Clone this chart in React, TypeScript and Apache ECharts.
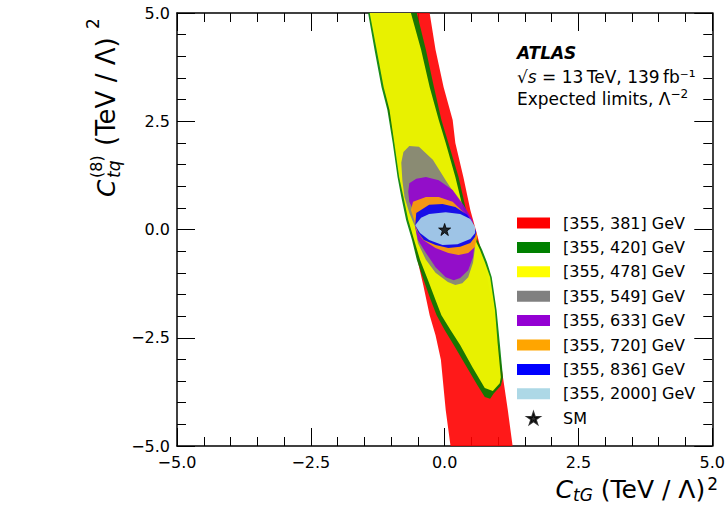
import { useEffect, useRef } from "react";
import * as echarts from "echarts";

// ---------- data ----------
const legendNames = [
  "[355, 381] GeV",
  "[355, 420] GeV",
  "[355, 478] GeV",
  "[355, 549] GeV",
  "[355, 633] GeV",
  "[355, 720] GeV",
  "[355, 836] GeV",
  "[355, 2000] GeV",
];
const regionColors = ["#ff0000", "#008000", "#ffff00", "#808080", "#9400d3", "#ffa500", "#0000ff", "#add8e6"];

const region381: number[][] = [
  [-1.36, 5], [-0.28, 5], [-0.17, 4.15], [-0.02, 3.29], [0.15, 2.53], [0.2, 2.0], [0.35, 1.21], [0.48, 0.45],
  [0.61, -0.13], [0.75, -0.82], [0.88, -1.63], [0.99, -2.55], [1.09, -3.41], [1.18, -4.17], [1.27, -5],
  [0.11, -5], [0.02, -4.17], [-0.07, -3.01], [-0.17, -2.44], [-0.28, -1.98], [-0.4, -1.28], [-0.53, -0.59],
  [-0.68, 0.22], [-0.77, 0.75], [-0.94, 2.0], [-1.14, 3.29],
];
const region420: number[][] = [
  [-1.43, 5], [-0.52, 5], [-0.35, 4.15], [-0.2, 3.29], [-0.06, 2.53], [0.07, 2.0], [0.26, 1.21], [0.4, 0.45],
  [0.57, -0.13], [0.7, -0.47], [0.79, -0.75], [0.88, -1.1], [0.97, -1.86], [1.03, -2.62], [1.09, -3.41],
  [1.05, -3.61], [0.92, -3.78], [0.85, -3.91], [0.75, -3.87], [0.61, -3.59], [0.39, -3.13], [0.17, -2.67],
  [0.0, -2.32], [-0.15, -1.98], [-0.26, -1.63], [-0.39, -1.17], [-0.52, -0.7], [-0.61, -0.24], [-0.72, 0.22],
  [-0.81, 0.75], [-0.88, 1.21], [-0.97, 2.0], [-1.07, 2.76], [-1.18, 3.29], [-1.31, 4.15],
];
const region478: number[][] = [
  [-1.4, 5], [-0.63, 5], [-0.44, 4.15], [-0.28, 3.29], [-0.11, 2.53], [0.02, 2.0], [0.2, 1.21], [0.35, 0.45],
  [0.53, -0.13], [0.66, -0.47], [0.75, -0.75], [0.85, -1.1], [0.94, -1.86], [0.99, -2.62], [1.05, -3.41],
  [1.03, -3.55], [0.9, -3.73], [0.75, -3.66], [0.52, -3.18], [0.29, -2.67], [0.11, -2.32], [-0.06, -1.98],
  [-0.17, -1.63], [-0.31, -1.17], [-0.46, -0.7], [-0.57, -0.24], [-0.68, 0.22], [-0.77, 0.75], [-0.85, 1.21],
  [-0.94, 2.0], [-1.03, 2.76], [-1.14, 3.29], [-1.27, 4.15],
];
const region549: number[][] = [
  [-0.66, 1.93], [-0.48, 1.91], [-0.22, 1.61], [0.02, 1.14], [0.26, 0.68], [0.44, 0.29], [0.53, -0.01],
  [0.57, -0.4], [0.53, -0.77], [0.44, -1.1], [0.33, -1.24], [0.2, -1.28], [0.06, -1.21], [-0.17, -1.0],
  [-0.35, -0.7], [-0.5, -0.31], [-0.55, 0.06], [-0.66, 0.38], [-0.75, 0.75], [-0.79, 1.14], [-0.81, 1.54],
  [-0.77, 1.79],
];
const region633: number[][] = [
  [-0.66, 1.07], [-0.53, 1.17], [-0.35, 1.21], [-0.11, 1.14], [0.15, 0.91], [0.35, 0.57], [0.52, 0.22],
  [0.57, -0.24], [0.53, -0.64], [0.44, -0.94], [0.29, -1.12], [0.17, -1.17], [0.02, -1.1], [-0.17, -0.87],
  [-0.35, -0.54], [-0.5, -0.24], [-0.55, 0.05], [-0.53, 0.29], [-0.57, 0.4], [-0.66, 0.64], [-0.68, 0.87],
];
const region720: number[][] = [
  [-0.63, 0.45], [-0.59, 0.64], [-0.35, 0.75], [-0.11, 0.75], [0.15, 0.64], [0.35, 0.4], [0.52, 0.17],
  [0.61, -0.17], [0.57, -0.4], [0.44, -0.54], [0.26, -0.59], [0.07, -0.54], [-0.17, -0.43], [-0.4, -0.24],
  [-0.53, -0.01], [-0.57, 0.22],
];
const region836: number[][] = [
  [-0.55, 0.1], [-0.53, 0.38], [-0.29, 0.57], [-0.04, 0.59], [0.2, 0.52], [0.42, 0.34], [0.53, 0.15],
  [0.59, -0.06], [0.57, -0.17], [0.48, -0.31], [0.29, -0.4], [0.07, -0.43], [-0.17, -0.36], [-0.39, -0.24],
  [-0.5, -0.06],
];
const region2000: number[][] = [
  [-0.55, 0.1], [-0.44, 0.27], [-0.29, 0.36], [0.02, 0.4], [0.29, 0.36], [0.48, 0.24], [0.57, 0.06],
  [0.57, -0.08], [0.48, -0.22], [0.24, -0.34], [-0.04, -0.36], [-0.29, -0.24], [-0.46, -0.08],
];
const regions = [region381, region420, region478, region549, region633, region720, region836, region2000];

const smPoint: number[][] = [[0, 0]];
const axisMin = -5;
const axisMax = 5;
const axisInterval = 2.5;

const FONT = '"DejaVu Sans", "Liberation Sans", sans-serif';
const starPath =
  "path://M50,0L61.2,34.5L97.6,34.5L68.2,55.9L79.4,90.5L50,69.1L20.6,90.5L31.8,55.9L2.4,34.5L38.8,34.5Z";

const fmt = (v: number) => (v < 0 ? "\u2212" : "") + Math.abs(v).toFixed(1);

function makeAxis(position: string, showLabel: boolean, isX: boolean) {
  return {
    type: "value",
    position,
    min: axisMin,
    max: axisMax,
    interval: axisInterval,
    axisLine: { show: true, onZero: false, lineStyle: { color: "#000", width: 1.5 } },
    axisTick: { show: true, inside: true, length: 18, lineStyle: { color: "#000", width: 1 } },
    minorTick: { show: true, splitNumber: 5, length: 9, lineStyle: { color: "#000", width: 1 } },
    splitLine: { show: false },
    minorSplitLine: { show: false },
    axisLabel: {
      show: showLabel,
      formatter: fmt,
      color: "#000",
      fontSize: 16,
      fontFamily: FONT,
      margin: isX ? 8 : 7,
      showMinLabel: true,
      showMaxLabel: true,
    },
  };
}

export default function App() {
  const ref = useRef<HTMLDivElement>(null);
  useEffect(() => {
    document.body.style.margin = "0";
    document.documentElement.style.overflow = "hidden";
    if (!ref.current) return;
    const chart = echarts.init(ref.current, undefined, { renderer: "svg", width: 728, height: 506 });

    const polySeries = regions.map((pts, i) => ({
      type: "custom",
      name: legendNames[i],
      xAxisIndex: 0,
      yAxisIndex: 0,
      clip: true,
      silent: true,
      itemStyle: { color: regionColors[i] },
      encode: { x: 0, y: 1 },
      data: pts,
      renderItem: (params: any, api: any) => {
        if (params.dataIndex !== 0) return null;
        return {
          type: "polygon",
          shape: { points: pts.map((p) => api.coord(p)) },
          style: { fill: regionColors[i], opacity: 0.9, stroke: "none" },
        };
      },
    }));

    const sup = (size: number) => ({ fontSize: size, fontFamily: FONT, verticalAlign: "top", fill: "#000" });

    const option: any = {
      animation: false,
      backgroundColor: "#fff",
      grid: { left: 177, top: 13, width: 544, height: 433, containLabel: false },
      xAxis: [makeAxis("bottom", true, true), makeAxis("top", false, true)],
      yAxis: [makeAxis("left", true, false), makeAxis("right", false, false)],
      legend: {
        orient: "vertical",
        left: 517,
        top: 215,
        padding: 0,
        itemWidth: 33,
        itemHeight: 11,
        itemGap: 8.4,
        selectedMode: false,
        textStyle: { fontSize: 16, fontFamily: FONT, color: "#000", padding: [0, 0, 0, 8] },
        data: [
          ...legendNames.map((n) => ({ name: n, icon: "rect" })),
          { name: "SM", icon: starPath },
        ],
      },
      series: [
        ...polySeries,
        {
          type: "scatter",
          name: "SM",
          xAxisIndex: 0,
          yAxisIndex: 0,
          symbol: starPath,
          symbolSize: 12,
          itemStyle: { color: "#000", borderColor: "#000", borderWidth: 1 },
          data: smPoint,
          silent: true,
        },
      ],
      graphic: [
        {
          type: "text",
          x: 517,
          y: 53,
          style: {
            text: "ATLAS",
            font: `italic bold 17px ${FONT}`,
            fill: "#000",
            textVerticalAlign: "middle",
            verticalAlign: "middle",
          },
        },
        {
          type: "text",
          x: 517,
          y: 77,
          style: {
            text: "{n|\u221A}{i|s}{n| = 13\u2009TeV, 139\u2009fb\u207B\u00B9}",
            fill: "#000",
            textVerticalAlign: "middle",
            verticalAlign: "middle",
            rich: {
              n: { fontSize: 17, fontFamily: FONT, fill: "#000" },
              i: { fontSize: 17, fontFamily: FONT, fontStyle: "italic", fill: "#000" },
            },
          },
        },
        {
          type: "text",
          x: 517,
          y: 99,
          style: {
            text: "{n|Expected limits, \u039B}{p|\u22122}",
            fill: "#000",
            textVerticalAlign: "middle",
            verticalAlign: "middle",
            rich: {
              n: { fontSize: 17, fontFamily: FONT, lineHeight: 22, fill: "#000" },
              p: sup(12),
            },
          },
        },
        {
          type: "text",
          x: 718,
          y: 489,
          style: {
            text: "{i|C}{s|tG}{n| (TeV / \u039B)}{p|2}",
            textAlign: "right",
            align: "right",
            textVerticalAlign: "middle",
            verticalAlign: "middle",
            rich: {
              i: { fontSize: 25, fontFamily: FONT, fontStyle: "italic", lineHeight: 28, fill: "#000" },
              s: { fontSize: 17, fontFamily: FONT, fontStyle: "italic", verticalAlign: "bottom", fill: "#000" },
              n: { fontSize: 25, fontFamily: FONT, lineHeight: 28, fill: "#000" },
              p: { ...sup(17), padding: [0, 0, 0, 2] },
            },
          },
        },
        {
          type: "group",
          x: 106,
          y: 197,
          rotation: Math.PI / 2,
          children: [
            {
              type: "text",
              x: 0,
              y: 0,
              style: { text: "C", font: `italic 25px ${FONT}`, fill: "#000", textVerticalAlign: "middle", verticalAlign: "middle" },
            },
            {
              type: "text",
              x: 19,
              y: -10,
              style: { text: "(8)", font: `16px ${FONT}`, fill: "#000", textVerticalAlign: "middle", verticalAlign: "middle" },
            },
            {
              type: "text",
              x: 19,
              y: 8,
              style: { text: "tq", font: `italic 17px ${FONT}`, fill: "#000", textVerticalAlign: "middle", verticalAlign: "middle" },
            },
            {
              type: "text",
              x: 51,
              y: 0,
              style: { text: "(TeV / \u039B)", font: `26px ${FONT}`, fill: "#000", textVerticalAlign: "middle", verticalAlign: "middle" },
            },
            {
              type: "text",
              x: 168,
              y: -13,
              style: { text: "2", font: `17px ${FONT}`, fill: "#000", textVerticalAlign: "middle", verticalAlign: "middle" },
            },
          ],
        },
      ],
    };
    chart.setOption(option);
    return () => chart.dispose();
  }, []);
  return <div ref={ref} style={{ width: 728, height: 506 }} />;
}
